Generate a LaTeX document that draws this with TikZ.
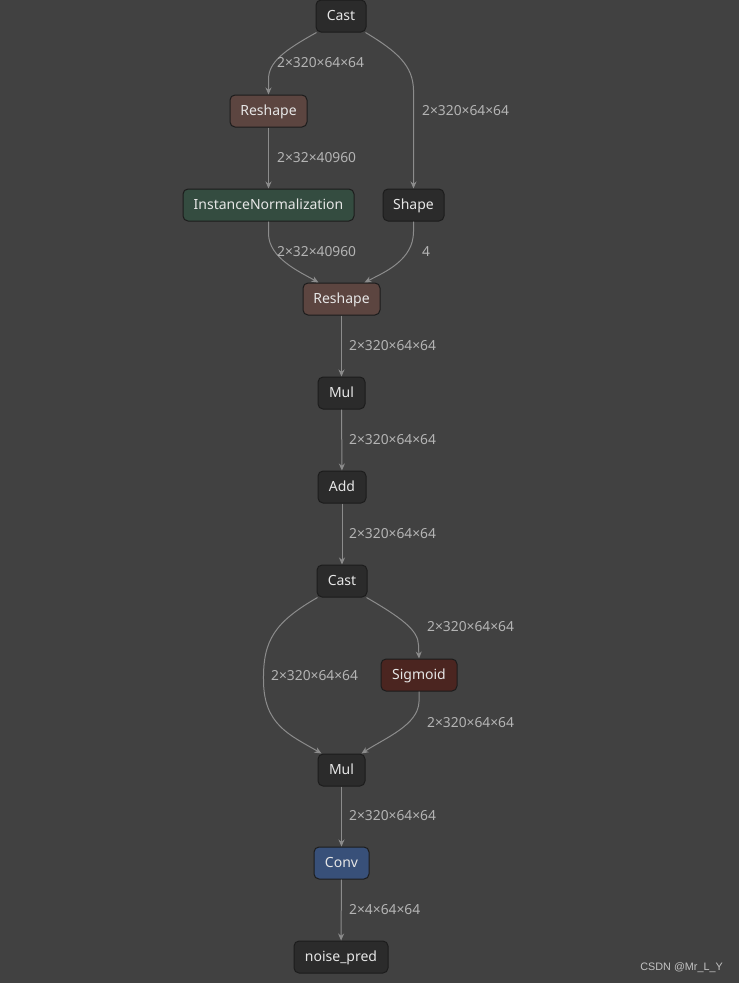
\documentclass[tikz,border=0pt]{standalone}
\usepackage{fontspec}
\setmainfont{Noto Sans}
\newfontfamily\wmfont{Liberation Sans}
\usetikzlibrary{arrows.meta}
\definecolor{bg}{HTML}{414141}
\definecolor{nodedark}{HTML}{2B2B2B}
\definecolor{nodeborder}{HTML}{1C1C1C}
\definecolor{reshapefill}{HTML}{5C4540}
\definecolor{normfill}{HTML}{344C40}
\definecolor{sigfill}{HTML}{4B2520}
\definecolor{convfill}{HTML}{385079}
\definecolor{edgecol}{HTML}{8C8C8C}
\definecolor{labelcol}{HTML}{B4B4B4}
\definecolor{textcol}{HTML}{E6E6E6}
\tikzset{
  op/.style={draw=nodeborder, line width=1pt, rounded corners=5pt, fill=nodedark,
    text=textcol, minimum height=32pt, inner xsep=4pt, text height=1.9ex, text depth=0.3ex,
    font=\fontsize{14}{16}\selectfont},
  edge/.style={draw=edgecol, line width=1pt, -{Stealth[length=7pt,width=6pt]}},
  lab/.style={text=labelcol, anchor=west, inner sep=0pt, font=\fontsize{13.8}{16}\selectfont},
}
\begin{document}
\begin{tikzpicture}[x=1pt,y=-1pt]
\fill[bg] (0,0) rectangle (739,983);
\useasboundingbox (0,0) rectangle (739,983);
\node[op, minimum width=50pt] (cast1) at (341,16) {Cast};
\node[op, minimum width=77pt, fill=reshapefill] (resh1) at (268.5,111) {Reshape};
\node[op, minimum width=171pt, fill=normfill] (inorm) at (268.5,205) {InstanceNormalization};
\node[op, minimum width=61pt] (shape) at (413.5,205) {Shape};
\node[op, minimum width=77pt, fill=reshapefill] (resh2) at (341.5,299) {Reshape};
\node[op, minimum width=47pt] (mul1) at (341.5,393) {Mul};
\node[op, minimum width=48pt] (add) at (342,487) {Add};
\node[op, minimum width=50pt] (cast2) at (342,581) {Cast};
\node[op, minimum width=76pt, fill=sigfill] (sig) at (419,675) {Sigmoid};
\node[op, minimum width=47pt] (mul2) at (341.5,770) {Mul};
\node[op, minimum width=55pt, fill=convfill] (conv) at (341.5,863) {Conv};
\node[op, minimum width=94pt] (out) at (341,957) {noise\_pred};

% edges
\draw[edge] (cast1.south west) ++(1,0) .. controls (285,50) and (268,62) .. (268.5,80) -- (resh1.north);
\draw[edge] (cast1.south east) ++(-1,0) .. controls (398,52) and (413,66) .. (413.5,90) -- (shape.north);
\draw[edge] (resh1) -- (inorm);
\draw[edge] (inorm.south) -- ++(0,12) .. controls (268.5,258) and (300,272) .. ([xshift=-23pt]resh2.north);
\draw[edge] (shape.south) -- ++(0,10) .. controls (413.5,260) and (385,272) .. ([xshift=23pt]resh2.north);
\draw[edge] (resh2) -- (mul1);
\draw[edge] (mul1) -- (add);
\draw[edge] (add) -- (cast2);
\draw[edge] (cast2.south west) ++(1,0) .. controls (275,622) and (263,640) .. (263.5,680) .. controls (263.5,725) and (290,735) .. ([xshift=-20pt]mul2.north);
\draw[edge] (cast2.south east) ++(-1,0) .. controls (400,617) and (418.5,630) .. (418.5,645) -- (sig.north);
\draw[edge] (sig.south) -- ++(0,10) .. controls (418.5,725) and (385,738) .. ([xshift=20pt]mul2.north);
\draw[edge] (mul2) -- (conv);
\draw[edge] (conv) -- (out);

% labels
\node[lab] (l1) at (277,63) {2×320×64×64};
\node[lab] (l2) at (422,111) {2×320×64×64};
\node[lab] (l3) at (277,158) {2×32×40960};
\node[lab] (l4) at (277,252) {2×32×40960};
\node[lab] (l5) at (422,252) {4};
\node[lab] (l6) at (349,346) {2×320×64×64};
\node[lab] (l7) at (349,440) {2×320×64×64};
\node[lab] (l8) at (349,534) {2×320×64×64};
\node[lab] (l9) at (427,627) {2×320×64×64};
\node[lab] (l10) at (271,676) {2×320×64×64};
\node[lab] (l11) at (427,723) {2×320×64×64};
\node[lab] (l12) at (349,816) {2×320×64×64};
\node[lab] (l13) at (349,910) {2×4×64×64};
\node[anchor=east, inner sep=0pt, text=labelcol!80!white, font=\wmfont\fontsize{10.8}{12}\selectfont] (wm) at (723,968) {CSDN @Mr\_L\_Y};
\end{tikzpicture}
\end{document}
